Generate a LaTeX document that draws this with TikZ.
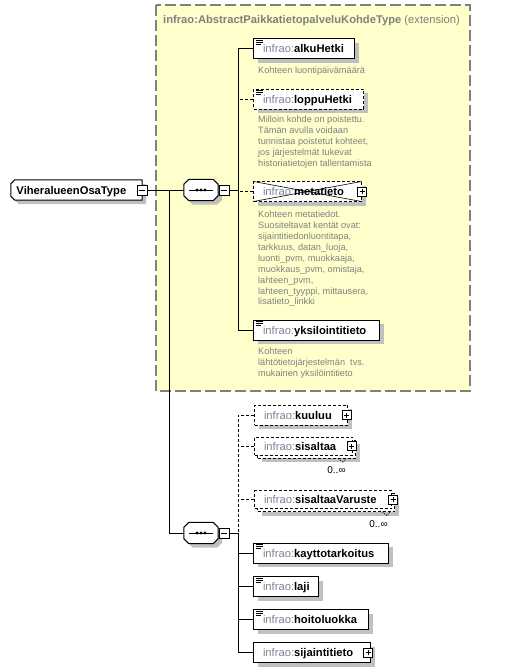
\documentclass[tikz,border=0pt]{standalone}
\usepackage{fontspec}
\setmainfont{Liberation Sans}
\usetikzlibrary{shadows,calc}
\pgfdeclarelayer{background}
\pgfsetlayers{background,main}
\definecolor{ybg}{RGB}{255,255,204}
\definecolor{ybd}{RGB}{128,128,128}
\definecolor{pfx}{RGB}{125,130,150}
\definecolor{desc}{RGB}{128,128,128}
\definecolor{shd}{RGB}{192,192,192}
\newcommand\elemfont{\fontsize{11.2}{13}\selectfont}
\newcommand\elname[1]{\hspace*{9.5pt}{\color{pfx}infrao:}\textbf{#1}}
\newcommand\seqdeco[1]{%
  \begin{pgfonlayer}{background}
  \fill[shd,transform canvas={shift={(4pt,-4pt)}}] ([shift={(5,0)}]#1.north west) -- ([shift={(-5,0)}]#1.north east) -- ([shift={(0,5)}]#1.north east) -- ([shift={(0,-5)}]#1.south east) -- ([shift={(-5,0)}]#1.south east) -- ([shift={(5,0)}]#1.south west) -- ([shift={(0,-5)}]#1.south west) -- ([shift={(0,5)}]#1.north west) -- cycle;
  \draw[line width=1pt,fill=white] ([shift={(5,0)}]#1.north west) -- ([shift={(-5,0)}]#1.north east) -- ([shift={(0,5)}]#1.north east) -- ([shift={(0,-5)}]#1.south east) -- ([shift={(-5,0)}]#1.south east) -- ([shift={(5,0)}]#1.south west) -- ([shift={(0,-5)}]#1.south west) -- ([shift={(0,5)}]#1.north west) -- cycle;
  \end{pgfonlayer}
  \draw[line width=1pt] ([xshift=-12pt]#1.center) -- ([xshift=12pt]#1.center);
  \foreach \dx in {-4,0,4}{\fill ([xshift=\dx pt]#1.center) circle (1.6pt);}
}
\tikzset{
  conn/.style={line width=1pt, black},
  dconn/.style={conn, dash pattern=on 3pt off 2pt},
  elembase/.style={draw, line width=1pt, fill=white, anchor=west, minimum height=20pt,
    inner sep=0pt, text height=8pt, text depth=0pt, text width=#1, align=left, font=\elemfont},
  elem/.style={elembase=#1, general shadow={fill=shd, shadow xshift=4pt, shadow yshift=-4pt}},
  elemm/.style={elembase=#1, minimum height=18pt,
    general shadow={fill=shd, shadow xshift=7pt, shadow yshift=-7pt},
    general shadow={fill=white, draw=black, line width=1pt, dash pattern=on 3pt off 2pt, shadow xshift=3pt, shadow yshift=-3pt}},
  opt/.style={dash pattern=on 3pt off 2pt},
  icon/.style={path picture={\draw[solid, line width=0.7pt]
    ([shift={(2,1.5)}]path picture bounding box.north west) -- ++(7,0)
    ([shift={(2,3.5)}]path picture bounding box.north west) -- ++(7,0)
    ([shift={(2,5.5)}]path picture bounding box.north west) -- ++(5,0);}},
  xcross/.style={path picture={\draw[solid, line width=0.6pt]
    (path picture bounding box.north west) -- (path picture bounding box.south east)
    (path picture bounding box.south west) -- (path picture bounding box.north east);}},
  plusbox/.style={draw, solid, line width=0.8pt, fill=white, minimum size=9pt, inner sep=0pt,
    path picture={\draw[line width=0.8pt]
      ([xshift=2pt]path picture bounding box.west) -- ([xshift=-2pt]path picture bounding box.east)
      ([yshift=2pt]path picture bounding box.south) -- ([yshift=-2pt]path picture bounding box.north);}},
  minusbox/.style={draw, solid, line width=0.8pt, fill=white, minimum size=10pt, inner sep=0pt,
    path picture={\draw[line width=0.8pt]
      ([xshift=2pt]path picture bounding box.west) -- ([xshift=-2pt]path picture bounding box.east);}},
  seqn/.style={inner sep=0pt, minimum width=34pt, minimum height=21pt},
  rootn/.style={inner sep=0pt, minimum height=20pt, text width=131pt, align=left,
    text height=8pt, text depth=0pt, font=\elemfont},
  desc/.style={anchor=north west, inner sep=0pt, align=left, text=desc,
    font=\fontsize{9.2}{10.95}\selectfont},
  card/.style={inner sep=0pt, font=\fontsize{10}{11}\selectfont},
  vmark/.style={line width=0.6pt, dash pattern=on 1.5pt off 1pt}
}
\begin{document}
\begin{tikzpicture}[x=1pt,y=-1pt]
\useasboundingbox (0,0) rectangle (513,672);
\begin{pgfonlayer}{background}
\fill[white] (0,0) rectangle (513,672);
\fill[ybg] (156,5) rectangle (470,391);
\draw[ybd, line width=1.3pt, dash pattern=on 11pt off 4pt] (156,5) rectangle (470,391);
\end{pgfonlayer}
\node[anchor=base west, inner sep=0pt, text=ybd, font=\elemfont] (ttl) at (163,23)
  {\textbf{infrao:AbstractPaikkatietopalveluKohdeType} (extension)};

% root
\node[rootn] (root) at (76.5,190) {\hspace*{5.5pt}\textbf{ViheralueenOsaType}};
\begin{pgfonlayer}{background}
\fill[shd, transform canvas={shift={(4pt,-4pt)}}] ([shift={(4,0)}]root.north west) -- (root.north east) -- (root.south east) -- ([shift={(4,0)}]root.south west) -- ([shift={(0,-4)}]root.south west) -- ([shift={(0,4)}]root.north west) -- cycle;
\draw[line width=1pt, fill=white] ([shift={(4,0)}]root.north west) -- (root.north east) -- (root.south east) -- ([shift={(4,0)}]root.south west) -- ([shift={(0,-4)}]root.south west) -- ([shift={(0,4)}]root.north west) -- cycle;
\end{pgfonlayer}
\node[minusbox] (rootm) at (root.east) {};

% sequences
\node[seqn] (s1) at (201,190) {};
\seqdeco{s1}
\node[minusbox] (s1m) at (224,190) {};
\node[seqn] (s2) at (201,533) {};
\seqdeco{s2}
\node[minusbox] (s2m) at (224,533) {};

% extension children
\node[elem=101pt, icon] (alku) at (253,48.5) {\elname{alkuHetki}};
\node[desc] (alkud) at (258,66.5) {Kohteen luontipäivämäärä};
\node[elem=110pt, icon, opt] (loppu) at (253,99) {\elname{loppuHetki}};
\node[desc] (loppud) at (258,115.5) {Milloin kohde on poistettu.\\Tämän avulla voidaan\\tunnistaa poistetut kohteet,\\jos järjestelmät tukevat\\historiatietojen tallentamista};
\node[elem=108pt, opt, xcross] (meta) at (253,191.5) {\elname{metatieto}};
\node[plusbox] (metap) at (meta.east) {};
\node[desc] (metad) at (258,210.5) {Kohteen metatiedot.\\Suositeltavat kentät ovat:\\sijaintitiedonluontitapa,\\tarkkuus, datan\_luoja,\\luonti\_pvm, muokkaaja,\\muokkaus\_pvm, omistaja,\\lahteen\_pvm,\\lahteen\_tyyppi, mittausera,\\lisatieto\_linkki};
\node[elem=126pt, icon] (yks) at (253,330.3) {\elname{yksilointitieto}};
\node[desc] (yksd) at (258,348) {Kohteen\\lähtötietojärjestelmän\ \ tvs.\\mukainen yksilöintitieto};

% second sequence children
\node[elem=93pt, opt] (kuuluu) at (254,415) {\elname{kuuluu}};
\node[plusbox] (kuuluup) at ([xshift=-1.5pt]kuuluu.east) {};
\node[elemm=98pt, opt] (sis) at (254,446.3) {\elname{sisaltaa}};
\node[plusbox] (sisp) at ([xshift=-1.5pt]sis.east) {};
\draw[vmark] ([shift={(-15,12)}]sis.east) -- ([shift={(-10,16)}]sis.east) -- ([shift={(-7,12)}]sis.east);
\node[card] (sisc) at (336.5,470.5) {0..∞};
\node[elemm=137pt, opt] (sisv) at (254,499.7) {\elname{sisaltaaVaruste}};
\node[plusbox] (sisvp) at ([xshift=1pt]sisv.east) {};
\draw[vmark] ([shift={(-10,12)}]sisv.east) -- ([shift={(-5,16)}]sisv.east) -- ([shift={(-2,12)}]sisv.east);
\node[card] (sisvc) at (378.5,524) {0..∞};
\node[elem=135pt, icon] (kaytto) at (253,553.3) {\elname{kayttotarkoitus}};
\node[elem=65pt, icon] (laji) at (253,586.7) {\elname{laji}};
\node[elem=115pt, icon] (hoito) at (253,619.5) {\elname{hoitoluokka}};
\node[elem=117pt] (sij) at (253,652.7) {\elname{sijaintitieto}};
\node[plusbox] (sijp) at ([xshift=-3pt]sij.east) {};

% connectors
\coordinate (c0) at (169.5,190);
\draw[conn] (rootm.east) -- (s1.west);
\draw[conn] (c0) |- (s2.west);

\coordinate (c1) at (238,190);
\draw[conn] (s1m.east) -- (c1);
\draw[conn] (alku.west) -- (alku.west -| c1) |- (yks.west);
\draw[dconn] (loppu.west) -- (loppu.west -| c1);
\draw[dconn] (meta.west) -- (meta.west -| c1);

\coordinate (c2) at (238,533);
\draw[conn] (s2m.east) -- (c2);
\draw[dconn] (kuuluu.west) -- (kuuluu.west -| c2) -- (c2);
\draw[dconn] (sis.west) -- (sis.west -| c2);
\draw[dconn] (sisv.west) -- (sisv.west -| c2);
\draw[conn] (c2) |- (sij.west);
\draw[conn] (kaytto.west) -- (kaytto.west -| c2);
\draw[conn] (laji.west) -- (laji.west -| c2);
\draw[conn] (hoito.west) -- (hoito.west -| c2);
\end{tikzpicture}
\end{document}
